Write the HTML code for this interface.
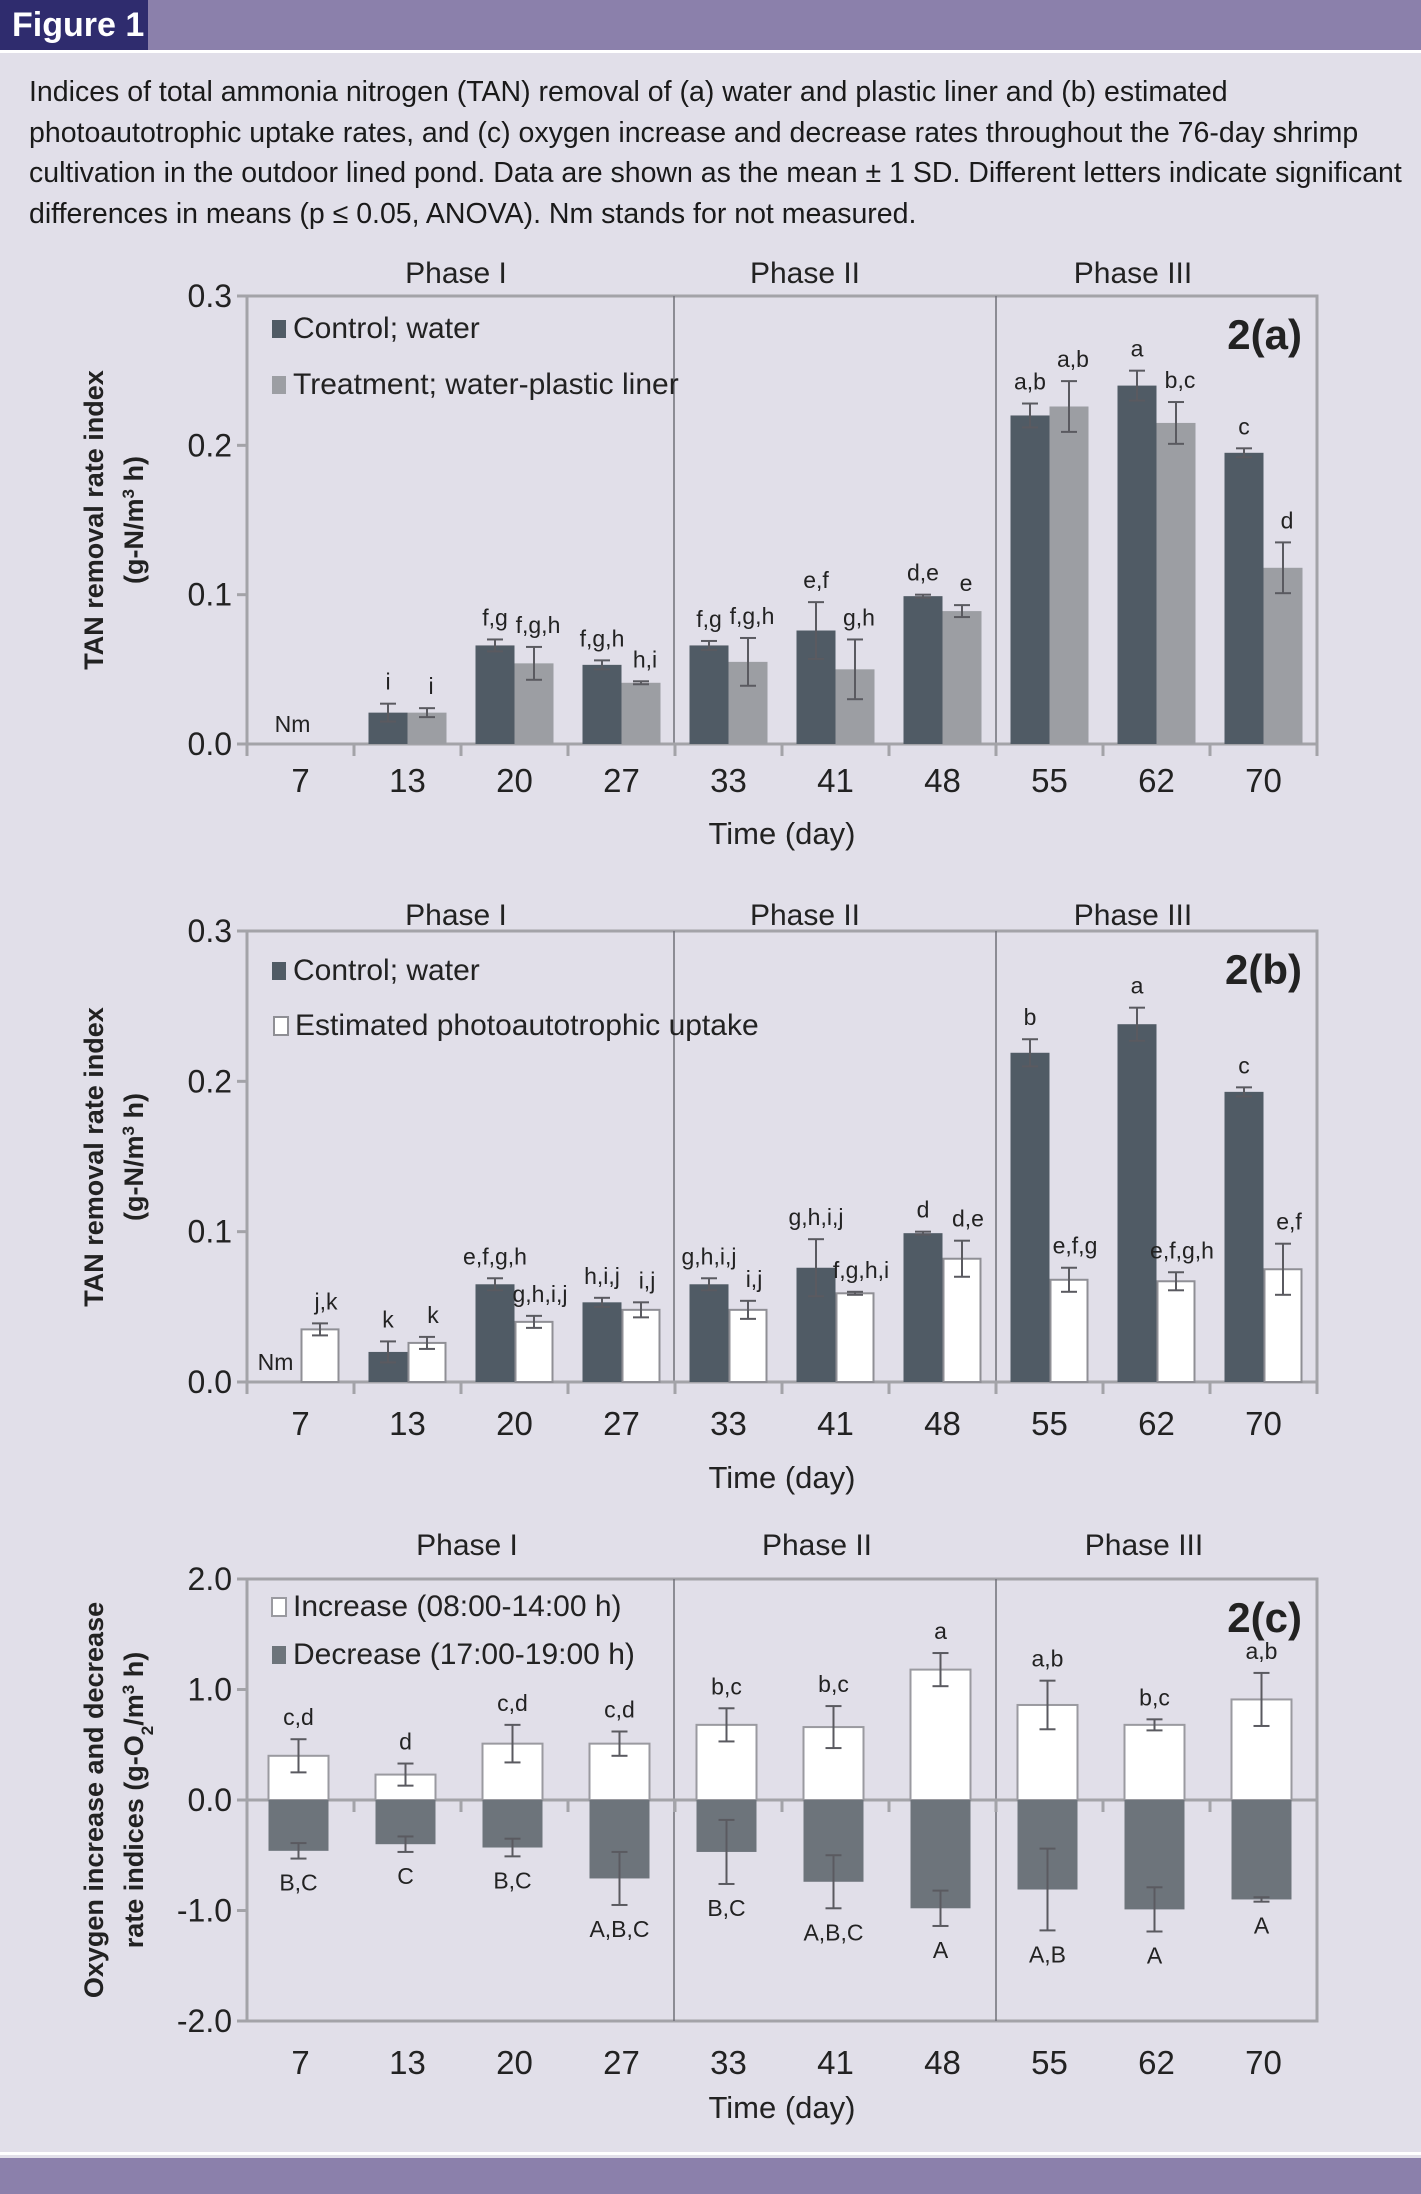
<!DOCTYPE html>
<html><head><meta charset="utf-8">
<style>
html,body{margin:0;padding:0;background:#e1dfe9;}
body{width:1421px;height:2194px;position:relative;overflow:hidden;font-family:"Liberation Sans Narrow","Liberation Sans",sans-serif;}
#hdr{position:absolute;left:0;top:0;width:1421px;height:50px;background:#8b80ab;}
#figlab{position:absolute;left:0;top:0;width:148px;height:50px;background:#2f2c6e;color:#fff;font-weight:bold;font-size:34px;line-height:50px;text-indent:12px;}
#hline{position:absolute;left:0;top:50px;width:1421px;height:3px;background:#fff;}
#cap{position:absolute;left:29px;top:72px;width:1390px;font-size:28.5px;line-height:40.5px;color:#1a1a1a;}
#foot{position:absolute;left:0;top:2158px;width:1421px;height:36px;background:#8b80ab;}
#footl{position:absolute;left:0;top:2152px;width:1421px;height:3px;background:#fff;}
svg{position:absolute;left:0;top:0;}
</style></head><body>
<div id="hdr"></div>
<div id="figlab">Figure 1</div>
<div id="hline"></div>
<div id="cap">Indices of total ammonia nitrogen (TAN) removal of (a) water and plastic liner and (b) estimated photoautotrophic uptake rates, and (c) oxygen increase and decrease rates throughout the 76-day shrimp cultivation in the outdoor lined pond. Data are shown as the mean ± 1 SD. Different letters indicate significant differences in means (p ≤ 0.05, ANOVA). Nm stands for not measured.</div>
<div id="footl"></div>
<div id="foot"></div>
<svg id="chart" width="1421" height="2194"></svg>
<script>
const categories = ["7","13","20","27","33","41","48","55","62","70"];
const phaseLabels = ["Phase I","Phase II","Phase III"];
// Chart a
const aControl = [null,0.021,0.066,0.053,0.066,0.076,0.099,0.220,0.240,0.195];
const aControlErr = [0,0.006,0.004,0.003,0.003,0.019,0.001,0.008,0.010,0.003];
const aControlLbl = ["","i","f,g","f,g,h","f,g","e,f","d,e","a,b","a","c"];
const aTreat = [null,0.021,0.054,0.041,0.055,0.050,0.089,0.226,0.215,0.118];
const aTreatErr = [0,0.003,0.011,0.001,0.016,0.020,0.004,0.017,0.014,0.017];
const aTreatLbl = ["","i","f,g,h","h,i","f,g,h","g,h","e","a,b","b,c","d"];
// Chart b
const bControl = [null,0.020,0.065,0.053,0.065,0.076,0.099,0.219,0.238,0.193];
const bControlErr = [0,0.007,0.004,0.003,0.004,0.019,0.001,0.009,0.011,0.003];
const bControlLbl = ["","k","e,f,g,h","h,i,j","g,h,i,j","g,h,i,j","d","b","a","c"];
const bPhoto = [0.035,0.026,0.040,0.048,0.048,0.059,0.082,0.068,0.067,0.075];
const bPhotoErr = [0.004,0.004,0.004,0.005,0.006,0.001,0.012,0.008,0.006,0.017];
const bPhotoLbl = ["j,k","k","g,h,i,j","i,j","i,j","f,g,h,i","d,e","e,f,g","e,f,g,h","e,f"];
// Chart c
const cInc = [0.40,0.23,0.51,0.51,0.68,0.66,1.18,0.86,0.68,0.91];
const cIncErr = [0.15,0.10,0.17,0.11,0.15,0.19,0.15,0.22,0.05,0.24];
const cIncLbl = ["c,d","d","c,d","c,d","b,c","b,c","a","a,b","b,c","a,b"];
const cDec = [-0.46,-0.40,-0.43,-0.71,-0.47,-0.74,-0.98,-0.81,-0.99,-0.90];
const cDecErr = [0.07,0.07,0.08,0.24,0.29,0.24,0.16,0.37,0.20,0.02];
const cDecLbl = ["B,C","C","B,C","A,B,C","B,C","A,B,C","A","A,B","A","A"];
const abTicks = [0.0,0.1,0.2,0.3];
const abTickLbl = ["0.0","0.1","0.2","0.3"];
const cTicks = [-2,-1,0,1,2];
const cTickLbl = ["-2.0","-1.0","0.0","1.0","2.0"];

const svg = document.getElementById('chart');
const NS = 'http://www.w3.org/2000/svg';
function mk(tag, attrs, parent){const e=document.createElementNS(NS,tag);for(const k in attrs)e.setAttribute(k,attrs[k]);(parent||svg).appendChild(e);return e;}
function txt(s, attrs, parent){const e=mk('text',attrs,parent);e.textContent=s;return e;}
const X0=247, X1=1317, CW=(X1-X0)/categories.length;
const DARK='#505b65', LIGHT='#9c9ea3', FONT='"Liberation Sans Narrow","Liberation Sans",sans-serif';
function xc(i){return X0+CW*(i+0.5);}

function frame(g, yTop, yBot, yZero, ticks, tickLbl, yf, phaseY, tickY, timeY, ylab1, ylab2, ylabY, panel, px){
  const fr=mk('rect',{x:X0,y:yTop,width:X1-X0,height:yBot-yTop,fill:'none',stroke:'#a3a3a8','stroke-width':3},g);
  
  
  [674,996].forEach(p=>{const l=mk('line',{x1:p,x2:p,y1:yTop,y2:yBot,stroke:'#707078','stroke-width':1.5},g);
    
    });
  phaseLabels.forEach((p,i)=>{const t=txt(p,{x:px[i],y:phaseY,'text-anchor':'middle','font-size':30,'font-family':FONT,fill:'#222'},g);
    
    });
  ticks.forEach((v,i)=>{
    const y=yf(v);
    mk('line',{x1:X0-10,x2:X0,y1:y,y2:y,stroke:'#a3a3a8','stroke-width':3},g);
    const t=txt(tickLbl[i],{x:X0-15,y:y+11,'text-anchor':'end','font-size':32,'font-family':FONT,fill:'#222'},g);
    
    
  });
  const za=mk('line',{x1:X0,x2:X1,y1:yZero,y2:yZero,stroke:'#a3a3a8','stroke-width':3},g);
  
  
  for(let i=0;i<=categories.length;i++){mk('line',{x1:X0+CW*i,x2:X0+CW*i,y1:yZero,y2:yZero+12,stroke:'#a3a3a8','stroke-width':3},g);}
  categories.forEach((c,i)=>{const t=txt(c,{x:xc(i),y:tickY,'text-anchor':'middle','font-size':33,'font-family':FONT,fill:'#222'},g);
    
    });
  const tt=txt('Time (day)',{x:782,y:timeY,'text-anchor':'middle','font-size':31,'font-family':FONT,fill:'#222'},g);
  
  
  const yl=mk('text',{transform:`translate(103,${ylabY}) rotate(-90)`,'text-anchor':'middle','font-size':27,'font-weight':'bold','font-family':'"Liberation Sans",sans-serif',fill:'#222'},g);
  
  
  mk('tspan',{x:0,dy:0},yl).textContent=ylab1;
  const t2=mk('tspan',{x:0,dy:40},yl);t2.innerHTML=ylab2;
  const pn=txt(panel,{x:1302,y:yTop+53,'text-anchor':'end','font-size':42,'font-weight':'bold','font-family':FONT,fill:'#222'},g);
  
  
}
function bar(g,x,w,y0,y1,fill,stroke,name){
  const r=mk('rect',{x:x,y:Math.min(y0,y1),width:w,height:Math.abs(y1-y0),fill:fill,stroke:stroke,'stroke-width':stroke==='none'?0:2},g);
  
  
}
function err(g,x,ya,yb){
  const c='#5a5a60';
  mk('line',{x1:x,x2:x,y1:ya,y2:yb,stroke:c,'stroke-width':2},g);
  mk('line',{x1:x-8,x2:x+8,y1:ya,y2:ya,stroke:c,'stroke-width':2},g);
  mk('line',{x1:x-8,x2:x+8,y1:yb,y2:yb,stroke:c,'stroke-width':2},g);
}
function lbl(g,s,x,y){const t=txt(s,{x:x,y:y,'text-anchor':'middle','font-size':23,'font-family':FONT,fill:'#222'},g);
  
  }
function legend(g,x,y,fill,stroke,s){
  const r=mk('rect',{x:x,y:y-18,width:14,height:18,fill:fill,stroke:stroke,'stroke-width':stroke==='none'?0:2},g);
  
  
  const t=txt(s,{x:x+21,y:y,'font-size':30,'font-family':FONT,fill:'#222'},g);
  
  
}
const abPhaseX=[456,805,1133], cPhaseX=[467,817,1144];

// ---- Chart a
(function(){
  const g=mk('g',{});
  
  
  const yT=296,yB=744; const yf=v=>yB-(v/0.3)*(yB-yT);
  frame(g,yT,yB,yB,abTicks,abTickLbl,yf,283,792,844,'TAN removal rate index','(g-N/m<tspan baseline-shift="super" font-size="17">3</tspan> h)',520,'2(a)',abPhaseX);
  const W=39;
  categories.forEach((c,i)=>{
    const cx=xc(i);
    if(aControl[i]===null){lbl(g,'Nm',cx-8,yB-12);return;}
    bar(g,cx-W,W,yB,yf(aControl[i]),DARK,'none','bar-control');
    err(g,cx-W/2,yf(aControl[i]+aControlErr[i]),yf(aControl[i]-aControlErr[i]));
    lbl(g,aControlLbl[i],cx-W/2,yf(aControl[i]+aControlErr[i])-14);
    bar(g,cx,W,yB,yf(aTreat[i]),LIGHT,'none','bar-treatment');
    err(g,cx+W/2,yf(aTreat[i]+aTreatErr[i]),yf(aTreat[i]-aTreatErr[i]));
    lbl(g,aTreatLbl[i],cx+W/2+4,yf(aTreat[i]+aTreatErr[i])-14);
  });
  legend(g,272,338,DARK,'none','Control; water');
  legend(g,272,394,LIGHT,'none','Treatment; water-plastic liner');
})();

// ---- Chart b
(function(){
  const g=mk('g',{});
  
  
  const yT=931,yB=1382; const yf=v=>yB-(v/0.3)*(yB-yT);
  frame(g,yT,yB,yB,abTicks,abTickLbl,yf,925,1435,1488,'TAN removal rate index','(g-N/m<tspan baseline-shift="super" font-size="17">3</tspan> h)',1157,'2(b)',abPhaseX);
  const W=39;
  categories.forEach((c,i)=>{
    const cx=xc(i);
    if(bControl[i]===null){lbl(g,'Nm',cx-25,yB-12);}
    else{
      bar(g,cx-W,W,yB,yf(bControl[i]),DARK,'none','bar-control');
      err(g,cx-W/2,yf(bControl[i]+bControlErr[i]),yf(bControl[i]-bControlErr[i]));
      lbl(g,bControlLbl[i],cx-W/2,yf(bControl[i]+bControlErr[i])-14);
    }
    bar(g,cx+1,W-2,yB,yf(bPhoto[i]),'#fff','#8f8f95','bar-photoautotrophic');
    err(g,cx+W/2,yf(bPhoto[i]+bPhotoErr[i]),yf(bPhoto[i]-bPhotoErr[i]));
    lbl(g,bPhotoLbl[i],cx+W/2+6,yf(bPhoto[i]+bPhotoErr[i])-14);
  });
  legend(g,272,980,DARK,'none','Control; water');
  legend(g,274,1035,'#fff','#8f8f95','Estimated photoautotrophic uptake');
})();

// ---- Chart c
(function(){
  const g=mk('g',{});
  
  
  const yT=1579,yB=2021; const yf=v=>yT+(2-v)/4*(yB-yT);
  frame(g,yT,yB,yf(0),cTicks,cTickLbl,yf,1555,2074,2118,'Oxygen increase and decrease','rate indices (g-O<tspan baseline-shift="sub" font-size="17">2</tspan>/m<tspan baseline-shift="super" font-size="17">3</tspan> h)',1800,'2(c)',cPhaseX);
  const W=60;
  categories.forEach((c,i)=>{
    const cx=xc(i)-2;
    bar(g,cx-W/2,W,yf(0),yf(cInc[i]),'#fff','#9a9aa0','bar-increase');
    err(g,cx,yf(cInc[i]+cIncErr[i]),yf(cInc[i]-cIncErr[i]));
    lbl(g,cIncLbl[i],cx,yf(cInc[i]+cIncErr[i])-14);
    bar(g,cx-W/2,W,yf(0),yf(cDec[i]),'#6d747b','none','bar-decrease');
    err(g,cx,yf(cDec[i]+cDecErr[i]),yf(cDec[i]-cDecErr[i]));
    lbl(g,cDecLbl[i],cx,yf(cDec[i]-cDecErr[i])+32);
  });
  legend(g,272,1616,'#fff','#9a9aa0','Increase (08:00-14:00 h)');
  legend(g,272,1664,'#6d747b','none','Decrease (17:00-19:00 h)');
})();
</script>
</body></html>
